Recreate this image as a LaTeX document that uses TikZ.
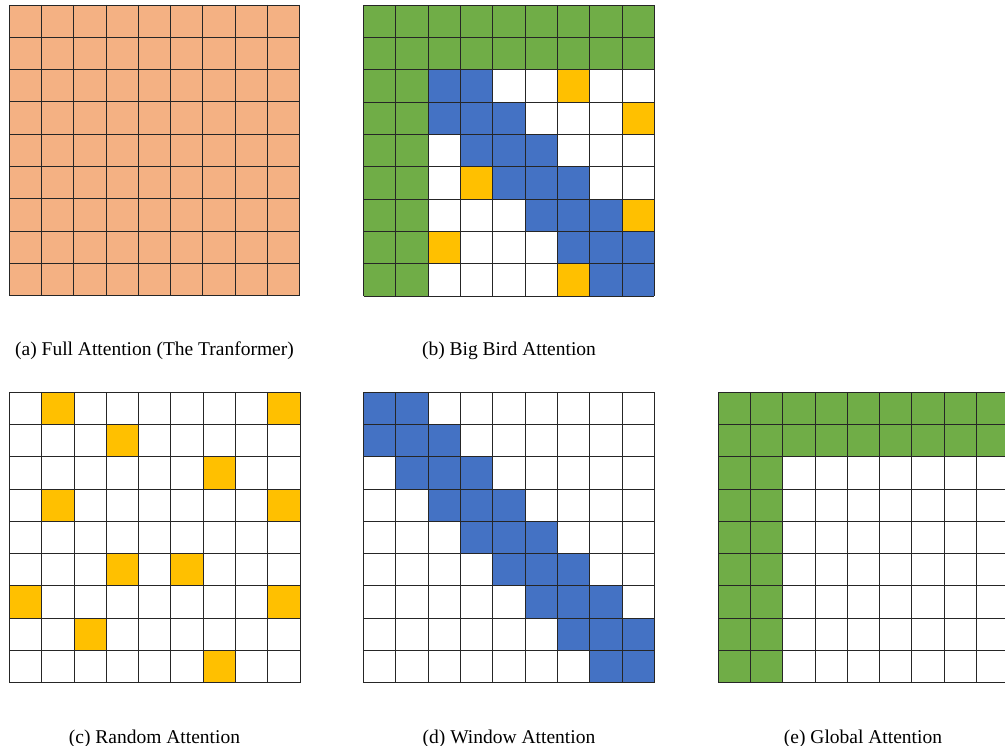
\documentclass[tikz,border=0pt]{standalone}
\usepackage{fontspec}
\setmainfont{Liberation Serif}
\definecolor{peach}{HTML}{F4B183}
\definecolor{ggreen}{HTML}{70AD47}
\definecolor{bblue}{HTML}{4472C4}
\definecolor{yyellow}{HTML}{FFC000}
\newcommand\cs{32.3}
\newcommand\attgrid[2]{%
  \foreach \ii in {0,...,9} {
    \draw[gridline] ({#1+\ii*\cs},#2) -- ({#1+\ii*\cs},{#2+9*\cs});
    \draw[gridline] (#1,{#2+\ii*\cs}) -- ({#1+9*\cs},{#2+\ii*\cs});
  }}
\newcommand\cellfill[5]{\fill[#5] ({#1+#3*\cs},{#2+#4*\cs}) rectangle ++(\cs,\cs);}
\newcommand\globalfill[2]{%
  \fill[ggreen] (#1,#2) rectangle ++({9*\cs},{2*\cs});
  \fill[ggreen] (#1,#2) rectangle ++({2*\cs},{9*\cs});}
\begin{document}
\begin{tikzpicture}[x=1pt,y=-1pt,
  gridline/.style={draw=black!85,line width=0.8pt},
  captext/.style={font=\fontsize{19.5}{22}\selectfont, anchor=base, inner sep=0pt}]
\useasboundingbox (0,0) rectangle (1005,746);
\fill[white] (0,0) rectangle (1005,746);
\clip (0,0) rectangle (1005,746);
% (a) full
\fill[peach] (9,5) rectangle ++({9*\cs},{9*\cs});
\attgrid{9}{5}
% (b) big bird
\globalfill{363.5}{5.3}
\foreach \cc/\rr in {2/2,3/2,2/3,3/3,4/3,3/4,4/4,5/4,4/5,5/5,6/5,5/6,6/6,7/6,6/7,7/7,8/7,7/8,8/8}
  {\cellfill{363.5}{5.3}{\cc}{\rr}{bblue}}
\foreach \cc/\rr in {6/2,8/3,3/5,8/6,2/7,6/8}
  {\cellfill{363.5}{5.3}{\cc}{\rr}{yyellow}}
\attgrid{363.5}{5.3}
% (c) random
\foreach \cc/\rr in {1/0,8/0,3/1,6/2,1/3,8/3,3/5,5/5,0/6,8/6,2/7,6/8}
  {\cellfill{9.3}{392}{\cc}{\rr}{yyellow}}
\attgrid{9.3}{392}
% (d) window
\foreach \cc/\rr in {0/0,1/0,0/1,1/1,2/1,1/2,2/2,3/2,2/3,3/3,4/3,3/4,4/4,5/4,4/5,5/5,6/5,5/6,6/6,7/6,6/7,7/7,8/7,7/8,8/8}
  {\cellfill{363.5}{392}{\cc}{\rr}{bblue}}
\attgrid{363.5}{392}
% (e) global
\globalfill{718}{392}
\attgrid{718}{392}
% captions
\node[captext] (capa) at (154.5,355.7) {(a) Full Attention (The Tranformer)};
\node[captext] (capb) at (509,355.7) {(b) Big Bird Attention};
\node[captext] (capc) at (154.5,743) {(c) Random Attention};
\node[captext] (capd) at (509,743) {(d) Window Attention};
\node[captext] (cape) at (863,743) {(e) Global Attention};
\end{tikzpicture}
\end{document}
